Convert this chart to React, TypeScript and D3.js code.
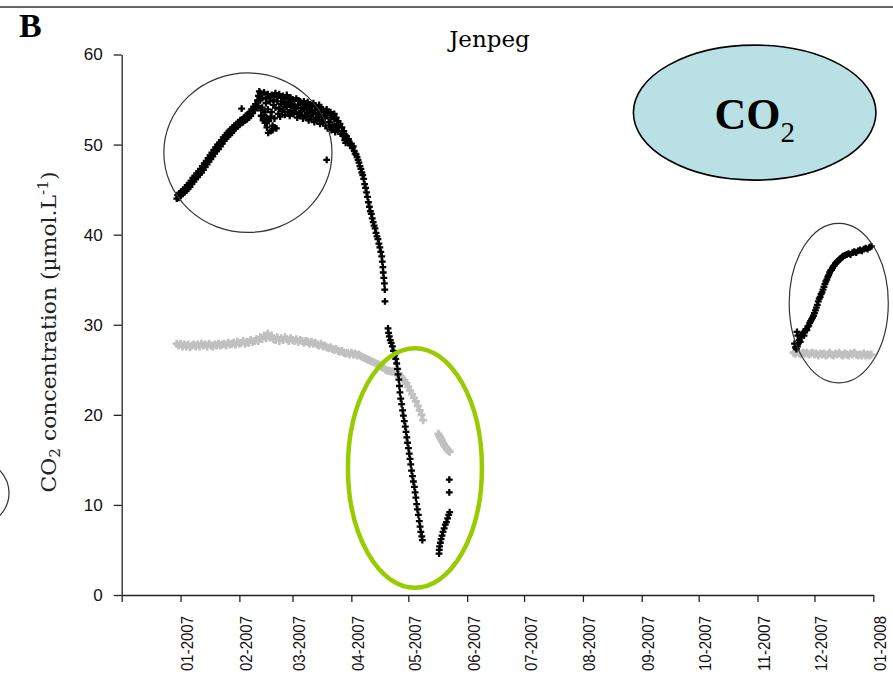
import React, { useEffect, useRef } from 'react';
import * as d3 from 'd3';

// days counted from 2007-01-01, CO2 in µmol/L
const blackWinter: [number, number][] = [
  [-2, 44.0], [-1.5, 44.4], [-1, 44.1], [-0.5, 44.6], [0, 44.3], [0.5, 44.8], [1, 44.5], [1.5, 45.0], [2, 44.7],
  [2.5, 45.2], [3, 44.9], [3.5, 45.5], [4, 45.1], [4.5, 45.7], [5, 45.3], [5.5, 46.0], [6, 45.6], [6.5, 46.3],
  [7, 45.9], [7.5, 46.5], [8, 46.2], [8.5, 46.8], [9, 46.4], [9.5, 47.0], [10, 46.7], [10.5, 47.3], [11, 46.9],
  [11.5, 47.6], [12, 47.2], [12.5, 47.9], [13, 47.5], [13.5, 48.2], [14, 47.8], [14.5, 48.5], [15, 48.1], [15.5, 48.8],
  [16, 48.4], [16.5, 49.1], [17, 48.7], [17.5, 49.4], [18, 49.0], [18.5, 49.7], [19, 49.3], [19.5, 50.0], [20, 49.5],
  [20.5, 50.2], [21, 49.8], [21.5, 50.5], [22, 50.1], [22.5, 50.8], [23, 50.4], [23.5, 51.0], [24, 50.7], [24.5, 51.3],
  [25, 50.9], [25.5, 51.5], [26, 51.1], [26.5, 51.7], [27, 51.3], [27.5, 51.9], [28, 51.6], [28.5, 52.1], [29, 51.8],
  [29.5, 52.3], [30, 52.0], [30.5, 52.5], [31, 52.2], [31.5, 52.7], [32, 52.4], [32.2, 54.0], [32.5, 52.8], [33, 52.5],
  [33.5, 53.0], [34, 52.7], [34.5, 53.2], [35, 52.8], [35.5, 53.4], [36, 53.0], [36.5, 53.6], [37, 53.2], [37.5, 53.9],
  [38, 53.5], [38.5, 54.2], [39, 53.8], [39.5, 54.5], [40, 54.1], [40.5, 54.9],
  [41, 55.4], [41, 54.3], [41.5, 55.9], [42, 54.9], [42, 55.7], [42.5, 53.8], [43, 55.2], [43, 54.1], [43.5, 53.0],
  [44, 55.8], [44, 53.3], [44.5, 52.4], [45, 54.6], [45, 55.1], [45.5, 51.9], [46, 55.6], [46, 53.9], [46.5, 52.6],
  [47, 54.8], [47, 55.3], [47.5, 51.5], [48, 55.5], [48, 53.6], [48.5, 52.1], [49, 54.4], [49, 55.0], [49.5, 52.9],
  [50, 55.7], [50, 54.1], [50.5, 51.8], [42.5, 53.2], [43.5, 52.7], [44.5, 53.6], [45.5, 52.9], [46.2, 51.3],
  [47.5, 53.1], [48.5, 51.6], [49.5, 51.9], [51, 54.8], [51, 55.3], [51.5, 53.4], [52, 55.6], [52, 54.0], [52.5, 53.1],
  [53, 54.5], [53, 55.2], [53.5, 53.7], [54, 55.4], [54, 53.9], [54.5, 54.7], [55, 55.0], [55, 53.3], [55.5, 54.4],
  [56, 55.5], [56, 54.2], [56.5, 53.6], [57, 54.7], [57, 55.1], [57.5, 53.2], [58, 55.2], [58, 53.8], [58.5, 54.5],
  [59, 54.3], [59, 55.0], [59.5, 53.4], [60, 54.9], [60, 53.6], [60.5, 54.2], [61, 55.1], [61, 54.0], [61.5, 53.0],
  [62, 54.4], [62, 54.9], [62.5, 53.5], [63, 54.8], [63, 53.2], [63.5, 54.1], [64, 54.6], [64, 53.7], [64.5, 52.9],
  [65, 54.1], [65, 54.8], [65.5, 53.3], [66, 54.5], [66, 53.0], [66.5, 53.9], [67, 54.7], [67, 53.5], [67.5, 52.7],
  [68, 54.0], [68, 54.4], [68.5, 53.2], [69, 54.3], [69, 52.8], [69.5, 53.7], [70, 54.6], [70, 53.4], [70.5, 52.5],
  [71, 53.8], [71, 54.2], [71.5, 53.0], [72, 54.1], [72, 52.6], [72.5, 53.5], [73, 54.4], [73, 53.1], [73.5, 52.3],
  [74, 53.6], [74, 54.0], [74.5, 52.8], [75, 53.9], [75, 52.4], [75.5, 53.3], [76, 53.7], [76, 52.9], [76.5, 52.1],
  [77, 53.3], [77, 53.9], [77.5, 51.8], [77, 48.3], [78, 53.5], [78, 52.5], [78.5, 52.0], [79, 53.0], [79, 53.6],
  [79.5, 51.6], [80, 53.3], [80, 52.2], [80.5, 51.9], [81, 52.8], [81, 53.4], [81.5, 51.4], [82, 53.0], [82, 51.9],
  [82.5, 52.3], [83, 52.6], [83, 51.5], [83.5, 52.0], [84, 52.3], [84.5, 51.2], [85, 51.9], [85.5, 51.0], [86, 51.5],
  [86.5, 50.5], [87, 51.0], [87, 50.2], [87.5, 50.9], [88, 50.4], [88.5, 50.6], [89, 50.2], [89.5, 49.9],
  [90, 50.1], [90.5, 49.6], [91, 49.8], [91.5, 49.3], [92, 49.0], [92.5, 48.9], [93, 48.6], [93.5, 48.3], [94, 48.0],
  [94.5, 47.6], [95, 47.3], [95.5, 46.9], [96, 46.6], [96.5, 46.2], [97, 45.6], [97.5, 45.2], [98, 44.7], [98.5, 44.2],
  [99, 43.6], [99.5, 43.1], [100, 42.6], [100.5, 42.3], [101, 41.8], [101.5, 41.4], [102, 41.0], [102.5, 40.7],
  [103, 40.2], [103.5, 39.8], [104, 39.5], [104.5, 39.0], [105, 38.6], [105.5, 38.1], [106, 37.6], [106.3, 37.0],
  [106.6, 36.4], [106.8, 35.8], [107.1, 35.2], [107.4, 34.6], [107.6, 33.9], [107.7, 32.6],
];

const blackSpring: [number, number][] = [
  [109.3, 29.6], [109.6, 29.1], [110, 28.7], [110.5, 28.3], [111, 28.0], [111.6, 27.6], [112.2, 27.1], [112.8, 26.6],
  [113.4, 26.2], [113.9, 25.7], [114.3, 25.1], [114.6, 24.5], [115, 23.9], [115.3, 23.2], [115.6, 22.5], [116, 21.8],
  [116.5, 21.2], [117, 20.5], [117.4, 19.9], [117.9, 19.3], [118.4, 18.7], [118.8, 18.1], [119.2, 17.5], [119.6, 16.9],
  [120.1, 16.3], [120.5, 15.7], [120.9, 15.1], [121.3, 14.5], [121.7, 13.8], [122.2, 13.2], [122.7, 12.6], [123.2, 12.0],
  [123.6, 11.4], [124, 10.8], [124.4, 10.1], [124.8, 9.5], [125.3, 8.9], [125.8, 8.2], [126.2, 7.6], [126.6, 7.0],
  [127.1, 6.5], [127.4, 6.1],
];

const blackJune: [number, number][] = [
  [136.2, 4.6], [136.3, 5.0], [136.5, 5.4], [136.9, 5.8], [137.3, 6.2], [137.8, 6.6], [138.3, 7.0], [138.9, 7.4],
  [139.5, 7.8], [140.1, 8.1], [140.7, 8.5], [141.3, 8.9], [141.8, 9.2], [141.6, 12.8], [141.6, 11.4],
];

const blackDecember: [number, number][] = [
  [323.5, 27.9], [324, 27.5], [324.5, 27.3], [324.8, 29.2], [325, 27.6], [325.2, 28.8], [325.5, 28.0], [326, 28.3],
  [326.5, 28.1], [327, 28.6], [327.5, 28.9], [328, 29.1], [328.5, 28.8], [329, 29.3], [329.5, 29.5], [330, 29.4],
  [330.5, 29.8], [331, 29.9], [331.5, 30.2], [332, 30.4], [332.5, 30.6], [333, 30.8], [333.5, 31.0], [334, 31.3],
  [334.5, 31.6], [335, 31.9], [335.5, 32.2], [336, 32.6], [336.5, 32.9], [337, 33.1], [337.5, 33.4], [338, 33.6],
  [338.5, 33.9], [339, 34.2], [339.5, 34.5], [340, 34.8], [340.5, 35.0], [341, 35.3], [341.5, 35.5], [342, 35.8],
  [342.5, 36.0], [343, 36.1], [343.5, 36.3], [344, 36.5], [344.5, 36.6], [345, 36.8], [345.5, 36.9], [346, 37.0],
  [346.5, 37.1], [347, 37.2], [347.5, 37.3], [348, 37.4], [348.5, 37.5], [349, 37.6], [350, 37.7], [351, 37.8],
  [352, 37.9], [353, 37.8], [354, 38.0], [355, 38.1], [356, 38.0], [357, 38.2], [358, 38.3], [359, 38.2],
  [360, 38.4], [361, 38.5], [362, 38.4], [363, 38.6], [364, 38.7],
];

const grayWinter: [number, number][] = [
  [-2, 27.9], [-1, 27.7], [0, 27.9], [1, 27.6], [2, 27.8], [3, 27.6], [4, 27.8], [5, 27.5], [6, 27.7], [7, 27.8],
  [8, 27.6], [9, 27.8], [10, 27.6], [11, 27.9], [12, 27.7], [13, 27.8], [14, 27.6], [15, 27.9], [16, 27.7], [17, 27.6],
  [18, 27.8], [19, 27.7], [20, 27.9], [21, 27.7], [22, 27.8], [23, 27.9], [24, 27.7], [25, 28.0], [26, 27.8], [27, 27.9],
  [28, 28.0], [29, 27.8], [30, 28.1], [31, 27.9], [32, 28.0], [33, 28.2], [34, 27.9], [35, 28.1], [36, 28.0], [37, 28.3],
  [38, 28.1], [39, 28.2], [40, 28.4], [41, 28.2], [42, 28.6], [43, 28.4], [44, 28.8], [45, 28.5], [46, 29.0], [47, 28.6],
  [48, 28.8], [49, 28.4], [50, 28.3], [51, 28.6], [52, 28.2], [53, 28.5], [54, 28.3], [55, 28.6], [56, 28.4], [57, 28.2],
  [58, 28.5], [59, 28.3], [60, 28.2], [61, 28.4], [62, 28.1], [63, 28.3], [64, 28.2], [65, 28.0], [66, 28.2], [67, 28.1],
  [68, 27.9], [69, 28.1], [70, 27.9], [71, 28.0], [72, 27.8], [73, 27.7], [74, 27.9], [75, 27.6], [76, 27.7], [77, 27.5],
  [78, 27.4], [79, 27.5], [80, 27.3], [81, 27.2], [82, 27.3], [83, 27.1], [84, 27.0], [85, 27.1], [86, 26.9], [87, 26.8],
  [88, 26.9], [89, 26.7], [90, 26.9], [91, 26.7], [92, 26.8], [93, 26.6], [94, 26.7], [95, 26.5], [96, 26.4], [97, 26.3],
  [98, 26.2], [99, 26.1], [100, 26.0], [101, 25.9], [102, 25.8], [103, 25.7], [104, 25.6], [105, 25.5], [106, 25.3],
  [107, 25.2], [108, 25.0], [109, 24.9], [110, 24.9], [111, 24.8], [112, 24.8], [113, 24.7], [114, 24.6], [115, 24.6],
  [116, 24.3], [117, 24.0], [118, 23.8], [119, 23.5], [120, 23.1], [121, 22.7], [122, 22.3], [123, 21.9], [124, 21.5],
  [125, 21.0], [126, 20.5], [127, 20.0], [127.8, 19.4],
];

const grayJune: [number, number][] = [
  [135.8, 17.9], [136.3, 17.7], [136.8, 17.5], [137.3, 17.3], [137.8, 17.1], [138.3, 16.9], [138.8, 16.7],
  [139.3, 16.5], [139.8, 16.4], [140.3, 16.2], [140.8, 16.1], [141.3, 16.0], [141.8, 15.9],
];

const grayDecember: [number, number][] = [
  [323, 26.9], [324, 26.8], [325, 27.0], [326, 26.8], [327, 26.7], [328, 26.9], [329, 26.8], [330, 26.9], [331, 26.7],
  [332, 26.8], [333, 26.9], [334, 26.7], [335, 26.8], [336, 26.6], [337, 26.8], [338, 26.7], [339, 26.8], [340, 26.6],
  [341, 26.7], [342, 26.9], [343, 26.7], [344, 26.6], [345, 26.8], [346, 26.7], [347, 26.9], [348, 26.7], [349, 26.6],
  [350, 26.8], [351, 26.7], [352, 26.6], [353, 26.8], [354, 26.7], [355, 26.9], [356, 26.7], [357, 26.6], [358, 26.7],
  [359, 26.6], [360, 26.8], [361, 26.6], [362, 26.7], [363, 26.6], [364, 26.7],
];

const yTicks = [0, 10, 20, 30, 40, 50, 60];
const monthTicks = [
  '2006-12-01', '2007-01-01', '2007-02-01', '2007-03-01', '2007-04-01', '2007-05-01', '2007-06-01',
  '2007-07-01', '2007-08-01', '2007-09-01', '2007-10-01', '2007-11-01', '2007-12-01', '2008-01-01',
];
const monthLabels = [
  '', '01-2007', '02-2007', '03-2007', '04-2007', '05-2007', '06-2007',
  '07-2007', '08-2007', '09-2007', '10-2007', '11-2007', '12-2007', '01-2008',
];

// annotation ellipses: centre (day, value), half-widths in days / µmol.L-1
const rings = [
  { day: 35.5, value: 49.1, rxDays: 44.3, ryValue: 8.85, stroke: '#333', width: 1.2, fill: 'none' },
  { day: 346.8, value: 32.4, rxDays: 26.1, ryValue: 8.85, stroke: '#333', width: 1.2, fill: 'none' },
  { day: 123.5, value: 14.1, rxDays: 35.3, ryValue: 13.3, stroke: '#99cc00', width: 4.5, fill: 'none' },
];
const badge = { day: 302.5, value: 53.55, rxDays: 63.9, ryValue: 7.49 };

const toDate = (day: number) => new Date(Date.UTC(2007, 0, 1) + day * 864e5);

export default function App() {
  const ref = useRef<SVGSVGElement>(null);

  useEffect(() => {
    if (!ref.current) return;
    const svg = d3.select(ref.current);
    svg.selectAll('*').remove();

    const x = d3.scaleUtc()
      .domain([new Date(Date.UTC(2006, 11, 1)), new Date(Date.UTC(2008, 0, 1))])
      .range([121.7, 873.3]);
    const y = d3.scaleLinear().domain([0, 60]).range([595, 54.5]);

    // frame line at top and a bit of the neighbouring panel
    svg.append('line').attr('x1', 0).attr('x2', 893).attr('y1', 7).attr('y2', 7)
      .attr('stroke', '#333').attr('stroke-width', 1.6);
    svg.append('ellipse').attr('cx', -41).attr('cy', 493).attr('rx', 50).attr('ry', 39)
      .attr('fill', 'none').attr('stroke', '#333').attr('stroke-width', 1.2);

    svg.append('text').attr('x', 19).attr('y', 37).text('B')
      .attr('font-family', 'Liberation Serif').attr('font-weight', 'bold').attr('font-size', 34);

    svg.append('text').attr('x', 489.5).attr('y', 47).attr('text-anchor', 'middle').text('Jenpeg')
      .attr('font-family', 'DejaVu Serif').attr('font-size', 23);

    // axes
    const font = 'Liberation Sans';
    const yAxis = svg.append('g').attr('transform', 'translate(121.7,0)')
      .call(d3.axisLeft(y).tickValues(yTicks).tickSize(8).tickSizeOuter(0).tickPadding(11));
    yAxis.selectAll('text').attr('font-family', font).attr('font-size', 17).attr('fill', '#111')
      .attr('textLength', 19).attr('lengthAdjust', 'spacingAndGlyphs');
    yAxis.selectAll('.tick text').filter((d: any) => d === 0).attr('textLength', null);

    const xAxis = svg.append('g').attr('transform', 'translate(0,595)')
      .call(d3.axisBottom(x)
        .tickValues(monthTicks.map(s => new Date(s + 'T00:00:00Z')))
        .tickSize(7).tickSizeOuter(0)
        .tickFormat((_d, i) => monthLabels[i]));
    xAxis.selectAll('text')
      .attr('font-family', font).attr('font-size', 17).attr('fill', '#111')
      .attr('transform', 'rotate(-90)').attr('text-anchor', 'end')
      .attr('x', -21).attr('y', 12).attr('dy', 0)
      .attr('textLength', 55).attr('lengthAdjust', 'spacingAndGlyphs');

    [yAxis, xAxis].forEach(g => {
      g.selectAll('path, line').attr('stroke', '#222').attr('stroke-width', 1.3);
    });

    // y label
    const yl = svg.append('text')
      .attr('transform', 'translate(56,332) rotate(-90)')
      .attr('text-anchor', 'middle')
      .attr('font-family', 'DejaVu Serif').attr('font-size', 20).attr('fill', '#222')
      .attr('textLength', 321).attr('lengthAdjust', 'spacingAndGlyphs');
    yl.append('tspan').text('CO');
    yl.append('tspan').attr('dy', 4).attr('font-size', 14).text('2');
    yl.append('tspan').attr('dy', -4).text(' concentration (µmol.L');
    yl.append('tspan').attr('dy', -8).attr('font-size', 14).text('-1');
    yl.append('tspan').attr('dy', 8).text(')');

    const cross = d3.symbol().type(d3.symbolCross);
    const plot = (data: [number, number][], color: string, size: number) => {
      svg.append('g').selectAll('path').data(data).enter().append('path')
        .attr('d', cross.size(size)() as string)
        .attr('transform', d => `translate(${x(toDate(d[0]))},${y(d[1])})`)
        .attr('fill', color);
    };
    [grayWinter, grayJune, grayDecember].forEach(s => plot(s, '#c0c0c0', 36));
    [blackWinter, blackSpring, blackJune, blackDecember].forEach(s => plot(s, '#000', 26));

    const ell = (c: { day: number; value: number; rxDays: number; ryValue: number }) => ({
      cx: x(toDate(c.day)),
      cy: y(c.value),
      rx: x(toDate(c.day + c.rxDays)) - x(toDate(c.day)),
      ry: y(0) - y(c.ryValue),
    });

    rings.forEach(r => {
      const e = ell(r);
      svg.append('ellipse').attr('cx', e.cx).attr('cy', e.cy).attr('rx', e.rx).attr('ry', e.ry)
        .attr('fill', r.fill).attr('stroke', r.stroke).attr('stroke-width', r.width);
    });

    const b = ell(badge);
    svg.append('ellipse').attr('cx', b.cx).attr('cy', b.cy).attr('rx', b.rx).attr('ry', b.ry)
      .attr('fill', '#b9e0e4').attr('stroke', '#000').attr('stroke-width', 1.6);
    const bt = svg.append('text').attr('x', b.cx).attr('y', b.cy + 16.5).attr('text-anchor', 'middle')
      .attr('font-family', 'Liberation Serif');
    bt.append('tspan').attr('font-weight', 'bold').attr('font-size', 44).text('CO');
    bt.append('tspan').attr('font-size', 29).attr('dy', 12.4).text('2');
  }, []);

  return (
    <svg ref={ref} width={893} height={677}
      style={{ position: 'absolute', left: 0, top: 0, background: '#fff' }} />
  );
}
